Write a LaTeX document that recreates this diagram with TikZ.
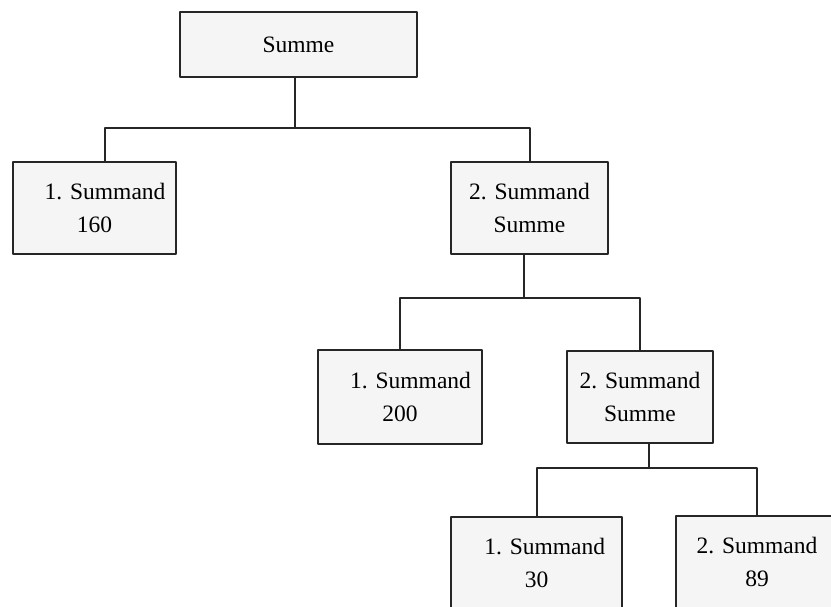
\documentclass[tikz,border=0pt]{standalone}
\usepackage{tikz}
\usepackage{fontspec}
\setmainfont{Liberation Serif}
\usetikzlibrary{calc}

\begin{document}
\begin{tikzpicture}[x=1pt,y=-1pt,line join=round,
	box/.style={draw=black!85,fill=black!4,line width=2pt,inner sep=0pt,align=center,
		font=\fontsize{23.5}{33}\selectfont},
	con/.style={draw=black!85,line width=2pt}]
	\useasboundingbox (0,0) rectangle (831,607);
	\clip (0,0) rectangle (831,607);
	\node[box,minimum width=237pt,minimum height=65pt] (summe) at (298.5,44.5) {Summe};
	\node[box,minimum width=163pt,minimum height=92pt] (sa1) at (94.5,208) {\hspace*{0.9em}1. Summand\\160};
	\node[box,minimum width=157pt,minimum height=92pt] (sa2) at (529.5,208) {2. Summand\\Summe};
	\node[box,minimum width=164pt,minimum height=94pt] (sb1) at (400,397) {\hspace*{0.9em}1. Summand\\200};
	\node[box,minimum width=146pt,minimum height=92pt] (sb2) at (640,397) {2. Summand\\Summe};
	\node[box,minimum width=171pt,minimum height=92pt] (sc1) at (536.5,563) {\hspace*{0.7em}1. Summand\\30};
	\node[box,minimum width=162pt,minimum height=92pt] (sc2) at (757,562) {2. Summand\\89};
	\draw[con] ([xshift=-3.5pt]summe.south) -- ++(0,50) coordinate (f1);
	\draw[con] (f1) -| ([xshift=10pt]sa1.north);
	\draw[con] (f1) -| (sa2.north);
	\draw[con] ([xshift=-5.5pt]sa2.south) -- ++(0,43) coordinate (f2);
	\draw[con] (f2) -| (sb1.north);
	\draw[con] (f2) -| (sb2.north);
	\draw[con] ([xshift=9pt]sb2.south) -- ++(0,24) coordinate (f3);
	\draw[con] (f3) -| (sc1.north);
	\draw[con] (f3) -| (sc2.north);
\end{tikzpicture}
\end{document}
